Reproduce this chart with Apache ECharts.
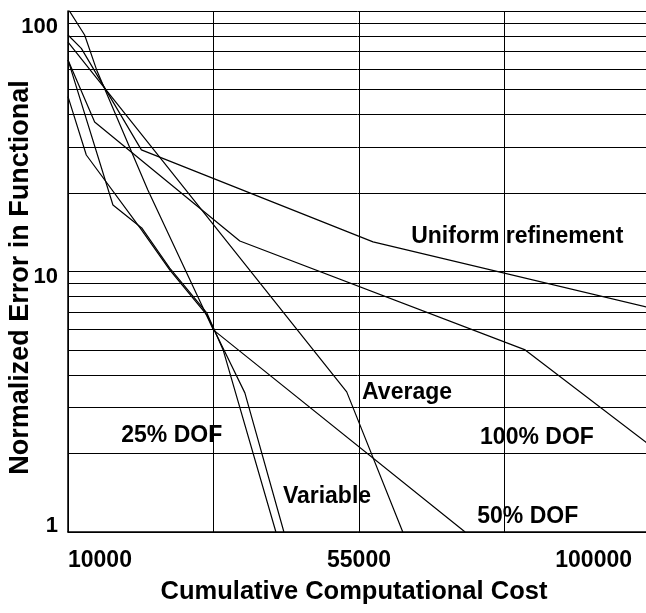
<!DOCTYPE html>
<html><head><meta charset="utf-8">
<script src="https://cdn.jsdelivr.net/npm/echarts@6/dist/echarts.min.js"></script>
<style>html,body{margin:0;padding:0;background:#fff}#c{width:646px;height:613px}</style>
</head><body><div id="c"></div>
<script>
// ---- axis ticks / labels ----
const xTickValues = [10000, 32500, 55000, 77500, 100000];
const xLabelValues = [10000, 55000, 100000];
const yTickValues = [1, 2, 3, 4, 5, 6, 7, 8, 9, 10, 20, 30, 40, 50, 60, 70, 80, 90, 100];
const yLabelValues = [1, 10, 100];

// ---- series data (cost, normalized error) ----
const uniformCost = [10000, 12060, 21350, 57170, 100000];
const uniformErr  = [80.9, 71.9, 29.3, 13.0, 7.26];

const averageCost = [10000, 53100, 61770];
const averageErr  = [75.9, 3.45, 1.0];

const dof50Cost = [10000, 12570, 14430, 22330, 32470, 71410];
const dof50Err  = [102, 80.9, 59.4, 20.6, 5.97, 1.0];

const dof100Cost = [10000, 14120, 36570, 80700, 100000];
const dof100Err  = [64.9, 37.5, 13.1, 5.0, 2.15];

const dof25Cost = [10000, 16950, 21400, 25730, 31460, 33990, 42150];
const dof25Err  = [64.9, 18.0, 14.7, 10.3, 6.94, 5.0, 1.0];

const variableCost = [10000, 12830, 21370, 25730, 31460, 34250, 37350, 43390];
const variableErr  = [46.9, 28.0, 14.45, 10.15, 6.82, 4.92, 3.42, 1.0];

// ---- curve labels and where they sit (data coordinates) ----
const curveNames = ['Uniform refinement', 'Average', '50% DOF', '100% DOF', '25% DOF', 'Variable'];
const labelAnchors = [[79470, 13.58], [62430, 3.42], [81090, 1.145], [82520, 2.31], [26040, 2.343], [50050, 1.37]];

const FONT = "'Liberation Sans', Arial, sans-serif";
const zip = (xs, ys) => xs.map((x, i) => [x, ys[i]]);
const seriesData = [
  zip(uniformCost, uniformErr),
  zip(averageCost, averageErr),
  zip(dof50Cost, dof50Err),
  zip(dof100Cost, dof100Err),
  zip(dof25Cost, dof25Err),
  zip(variableCost, variableErr)
];

const yLabelStyle = {color: '#000', fontSize: 22, fontWeight: 'bold', fontFamily: FONT};

const chart = echarts.init(document.getElementById('c'), null, {renderer: 'canvas'});
chart.setOption({
  animation: false,
  backgroundColor: '#fff',
  grid: {left: 68, top: 11, right: -4, bottom: 81, containLabel: false, outerBoundsMode: 'none'},
  xAxis: {
    type: 'value', min: 10000, max: 100000,
    axisLine: {show: true, lineStyle: {color: '#000', width: 1.5}},
    axisTick: {show: false, customValues: xTickValues},
    axisLabel: {
      customValues: xLabelValues, margin: 17, color: '#000', fontSize: 23, fontWeight: 'bold', fontFamily: FONT,
      alignMinLabel: 'left', alignMaxLabel: 'right',
      formatter: v => v === 100000 ? '{r|' + v + '}' : String(v),
      rich: {r: {padding: [0, 18, 0, 0], color: '#000', fontSize: 23, fontWeight: 'bold', fontFamily: FONT}}
    },
    splitLine: {show: true, lineStyle: {color: '#000', width: 1}},
    name: 'Cumulative Computational Cost', nameLocation: 'middle', nameGap: 47, nameMoveOverlap: false,
    nameTextStyle: {color: '#000', fontSize: 25.5, fontWeight: 'bold', fontFamily: FONT, padding: [0, 10, 0, 0]}
  },
  yAxis: {
    type: 'log', logBase: 10, min: 1, max: 100,
    axisLine: {show: true, lineStyle: {color: '#000', width: 1.5}},
    axisTick: {show: false, customValues: yTickValues},
    axisLabel: {
      customValues: yLabelValues, margin: 10, color: '#000', fontSize: 22, fontWeight: 'bold', fontFamily: FONT,
      formatter: v => v === 1 ? '{a|1}' : (v === 10 ? '{b|10}' : '{c|100}'),
      rich: {
        a: Object.assign({padding: [0, 0, 12, 0]}, yLabelStyle),
        b: Object.assign({padding: [10, 0, 0, 0]}, yLabelStyle),
        c: Object.assign({padding: [32, 0, 0, 0]}, yLabelStyle)
      }
    },
    splitLine: {show: true, lineStyle: {color: '#000', width: 1}},
    minorSplitLine: {show: false},
    name: 'Normalized Error in Functional', nameLocation: 'middle', nameGap: 34, nameMoveOverlap: false,
    nameTextStyle: {color: '#000', fontSize: 27, fontWeight: 'bold', fontFamily: FONT, padding: [0, 12, 0, 0]}
  },
  series: seriesData.map((d, i) => ({
    name: curveNames[i], type: 'line', data: d, showSymbol: false, symbol: 'none',
    lineStyle: {color: '#000', width: 1.2}, clip: true,
    markPoint: {
      symbol: 'circle', symbolSize: 0, silent: true,
      label: {show: true, position: 'inside', formatter: curveNames[i], color: '#000', fontSize: 23, fontWeight: 'bold', fontFamily: FONT},
      data: [{coord: labelAnchors[i]}]
    }
  }))
});
</script></body></html>
